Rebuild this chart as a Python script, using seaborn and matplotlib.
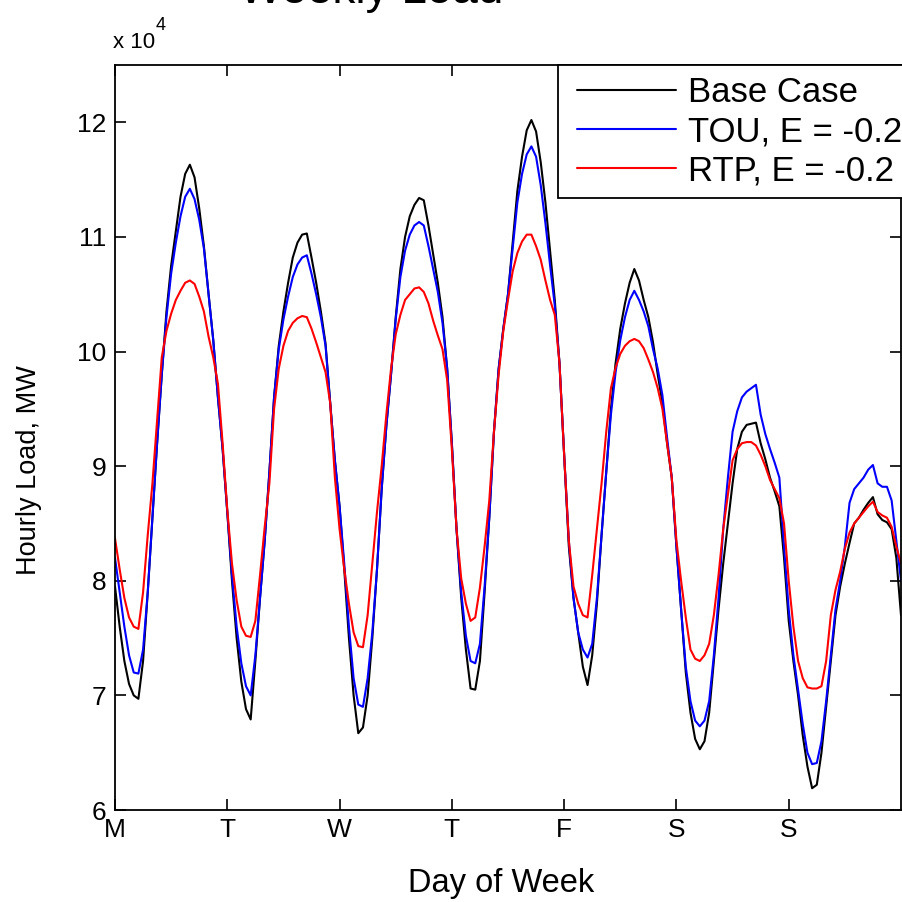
import numpy as np
import pandas as pd
import matplotlib
matplotlib.use("Agg")
import matplotlib.pyplot as plt
from matplotlib.patches import Rectangle
import seaborn as sns

# Hourly load (units of 10^4 MW), hours 0..168, Monday 00:00 to Sunday 24:00
base_case = [
    7.95, 7.6, 7.3, 7.1, 7.0, 6.97, 7.3, 7.9, 8.55, 9.2, 9.8, 10.35, 10.75, 11.05, 11.35, 11.55, 11.63,
    11.52, 11.25, 10.92, 10.5, 10.1, 9.6, 9.15, 8.6, 8.0, 7.5, 7.12, 6.88, 6.79, 7.3, 7.85, 8.35,
    8.95, 9.6, 10.05, 10.35, 10.6, 10.82, 10.95, 11.02, 11.03, 10.82, 10.6, 10.35, 10.07, 9.55, 9.05,
    8.65, 8.1, 7.5, 7.0, 6.67, 6.72, 7.0, 7.5, 8.1, 8.8, 9.35, 9.8, 10.3, 10.72, 11.0, 11.18, 11.28,
    11.34, 11.32, 11.1, 10.85, 10.6, 10.3, 9.85, 9.2, 8.45, 7.85, 7.4, 7.06, 7.05, 7.3, 7.9, 8.55,
    9.3, 9.85, 10.2, 10.5, 10.95, 11.4, 11.7, 11.93, 12.02, 11.92, 11.65, 11.3, 10.88, 10.45, 9.9,
    9.1, 8.3, 7.85, 7.55, 7.25, 7.09, 7.35, 7.8, 8.4, 8.95, 9.5, 9.9, 10.2, 10.42, 10.6, 10.72,
    10.62, 10.45, 10.3, 10.08, 9.8, 9.55, 9.2, 8.9, 8.3, 7.75, 7.2, 6.85, 6.62, 6.53, 6.6, 6.85,
    7.3, 7.75, 8.15, 8.5, 8.85, 9.15, 9.3, 9.36, 9.37, 9.38, 9.2, 9.06, 8.9, 8.78, 8.65, 8.2, 7.65,
    7.3, 7.0, 6.65, 6.38, 6.19, 6.22, 6.5, 6.9, 7.3, 7.7, 7.95, 8.15, 8.33, 8.5, 8.55, 8.62, 8.68,
    8.73, 8.58, 8.53, 8.51, 8.45, 8.2, 7.7,
]
tou = [
    8.2, 7.9, 7.6, 7.35, 7.2, 7.19, 7.4, 7.9, 8.55, 9.2, 9.8, 10.3, 10.68, 10.95, 11.18, 11.35, 11.42,
    11.33, 11.15, 10.9, 10.5, 10.1, 9.6, 9.15, 8.6, 8.05, 7.6, 7.28, 7.08, 7.0, 7.35, 7.85, 8.35,
    8.95, 9.6, 10.02, 10.28, 10.48, 10.65, 10.76, 10.82, 10.84, 10.68, 10.5, 10.3, 10.05, 9.55, 9.05,
    8.65, 8.15, 7.6, 7.15, 6.92, 6.9, 7.15, 7.55, 8.1, 8.8, 9.35, 9.8, 10.28, 10.65, 10.88, 11.02, 11.1,
    11.13, 11.1, 10.92, 10.72, 10.52, 10.25, 9.85, 9.2, 8.45, 7.9, 7.52, 7.3, 7.28, 7.45, 7.95, 8.55,
    9.3, 9.85, 10.2, 10.5, 10.9, 11.3, 11.55, 11.72, 11.79, 11.7, 11.45, 11.12, 10.75, 10.4, 9.9,
    9.1, 8.35, 7.85, 7.55, 7.4, 7.33, 7.45, 7.85, 8.4, 8.95, 9.45, 9.82, 10.1, 10.3, 10.45, 10.53,
    10.45, 10.35, 10.22, 10.02, 9.85, 9.62, 9.25, 8.9, 8.3, 7.75, 7.25, 6.95, 6.78, 6.73, 6.78, 6.95,
    7.35, 7.85, 8.45, 8.9, 9.3, 9.48, 9.6, 9.65, 9.68, 9.71, 9.45, 9.28, 9.15, 9.03, 8.9, 8.3, 7.75,
    7.35, 7.05, 6.75, 6.5, 6.4, 6.41, 6.6, 6.95, 7.35, 7.75, 8.0, 8.3, 8.68, 8.8, 8.85, 8.9, 8.97,
    9.01, 8.85, 8.82, 8.82, 8.7, 8.35, 8.0,
]
rtp = [
    8.37, 8.1, 7.85, 7.68, 7.6, 7.58, 7.9, 8.4, 8.85, 9.4, 9.95, 10.18, 10.33, 10.45, 10.53, 10.6, 10.62,
    10.59, 10.48, 10.35, 10.13, 9.95, 9.72, 9.2, 8.62, 8.15, 7.83, 7.6, 7.52, 7.51, 7.65, 8.05, 8.47,
    8.85, 9.5, 9.85, 10.05, 10.18, 10.25, 10.29, 10.31, 10.3, 10.2, 10.08, 9.95, 9.82, 9.55, 8.9,
    8.45, 8.1, 7.8, 7.55, 7.43, 7.42, 7.7, 8.15, 8.6, 9.0, 9.45, 9.85, 10.15, 10.32, 10.45, 10.5, 10.55,
    10.56, 10.52, 10.42, 10.27, 10.14, 10.02, 9.75, 9.15, 8.45, 8.02, 7.8, 7.65, 7.68, 7.94, 8.3, 8.7,
    9.3, 9.8, 10.18, 10.45, 10.7, 10.86, 10.96, 11.02, 11.02, 10.92, 10.8, 10.62, 10.45, 10.32, 9.9,
    9.1, 8.35, 7.95, 7.8, 7.7, 7.68, 8.05, 8.45, 8.85, 9.3, 9.68, 9.86, 9.98, 10.05, 10.09, 10.11,
    10.09, 10.03, 9.93, 9.82, 9.68, 9.5, 9.2, 8.9, 8.35, 8.0, 7.68, 7.4, 7.32, 7.3, 7.35, 7.45,
    7.7, 8.05, 8.45, 8.75, 9.05, 9.15, 9.2, 9.21, 9.21, 9.18, 9.1, 9.0, 8.88, 8.8, 8.72, 8.5, 8.0,
    7.6, 7.3, 7.15, 7.07, 7.06, 7.06, 7.08, 7.3, 7.7, 7.92, 8.08, 8.28, 8.42, 8.5, 8.55, 8.6, 8.65,
    8.69, 8.6, 8.57, 8.55, 8.47, 8.3, 8.15,
]
hours = list(range(len(base_case)))
series_names = ["Base Case", "TOU, E = -0.2", "RTP, E = -0.2"]
series_colors = ["#000000", "#0000ff", "#ff0000"]
day_ticks = [0, 24, 48, 72, 96, 120, 144]
day_labels = ["M", "T", "W", "T", "F", "S", "S"]
y_ticks = [6, 7, 8, 9, 10, 11, 12]

df = pd.DataFrame({
    "hour": hours * 3,
    "load": base_case + tou + rtp,
    "scenario": [series_names[0]] * len(hours) + [series_names[1]] * len(hours) + [series_names[2]] * len(hours),
})

sns.set_theme(style="ticks")
plt.rcParams["font.family"] = ["Liberation Sans", "DejaVu Sans"]
plt.rcParams["text.color"] = "black"
plt.rcParams["axes.labelcolor"] = "black"
plt.rcParams["xtick.color"] = "black"
plt.rcParams["ytick.color"] = "black"
plt.rcParams["axes.linewidth"] = 1.3

W = H = 902
fig = plt.figure(figsize=(W / 100, H / 100), dpi=100)
ax = fig.add_axes([115 / W, 92 / H, 786 / W, 745 / H])

sns.lineplot(data=df, x="hour", y="load", hue="scenario", hue_order=series_names,
             palette=dict(zip(series_names, series_colors)), linewidth=1.5, ax=ax,
             legend=True, sort=False)

ax.set_xlim(0, 168)
ax.set_ylim(6, 12.5)
ax.set_xticks(day_ticks)
ax.set_xticklabels(day_labels)
ax.set_yticks(y_ticks)
ax.set_yticklabels([str(v) for v in y_ticks])
ax.tick_params(direction="in", length=8, width=1.2, top=True, right=True,
               labelsize=19, colors="black", labelcolor="black", pad=6)
for sp in ax.spines.values():
    sp.set_color("black")
    sp.set_linewidth(1.3)

ax.set_xlabel("Day of Week", fontsize=23.5, color="black")
ax.set_ylabel("Hourly Load, MW", fontsize=19.5, color="black")
ax.xaxis.set_label_coords(0.491, -0.078)
ax.yaxis.set_label_coords(-0.093, 0.456)

# legend frame (extends past the right edge like the reference)
frame = Rectangle(((558 - 115) / 786, (810 - 198) / 745), 0.6, (198 - 65) / 745,
                  transform=ax.transAxes, facecolor="white", edgecolor="black",
                  linewidth=1.3, clip_on=False, zorder=5)
ax.add_patch(frame)

handles, labels = ax.get_legend_handles_labels()
leg = ax.legend(handles, labels, loc="upper left",
                bbox_to_anchor=((577 - 115) / 786, (810 - 76) / 745),
                fontsize=25, frameon=False, handlelength=2.85, handletextpad=0.35,
                labelspacing=0.18, borderpad=0, borderaxespad=0)
leg.set_zorder(6)
for ln in leg.get_lines():
    ln.set_linewidth(1.5)
for t in leg.get_texts():
    t.set_color("black")

fig.text(371 / W, 1 - 3 / H, "Weekly Load", fontsize=33, ha="center", va="baseline")
fig.text(113 / W, 1 - 48 / H, "x 10", fontsize=16, ha="left", va="baseline")
fig.text(156 / W, 1 - 30 / H, "4", fontsize=13, ha="left", va="baseline")

fig.savefig("out.png", dpi=100)
